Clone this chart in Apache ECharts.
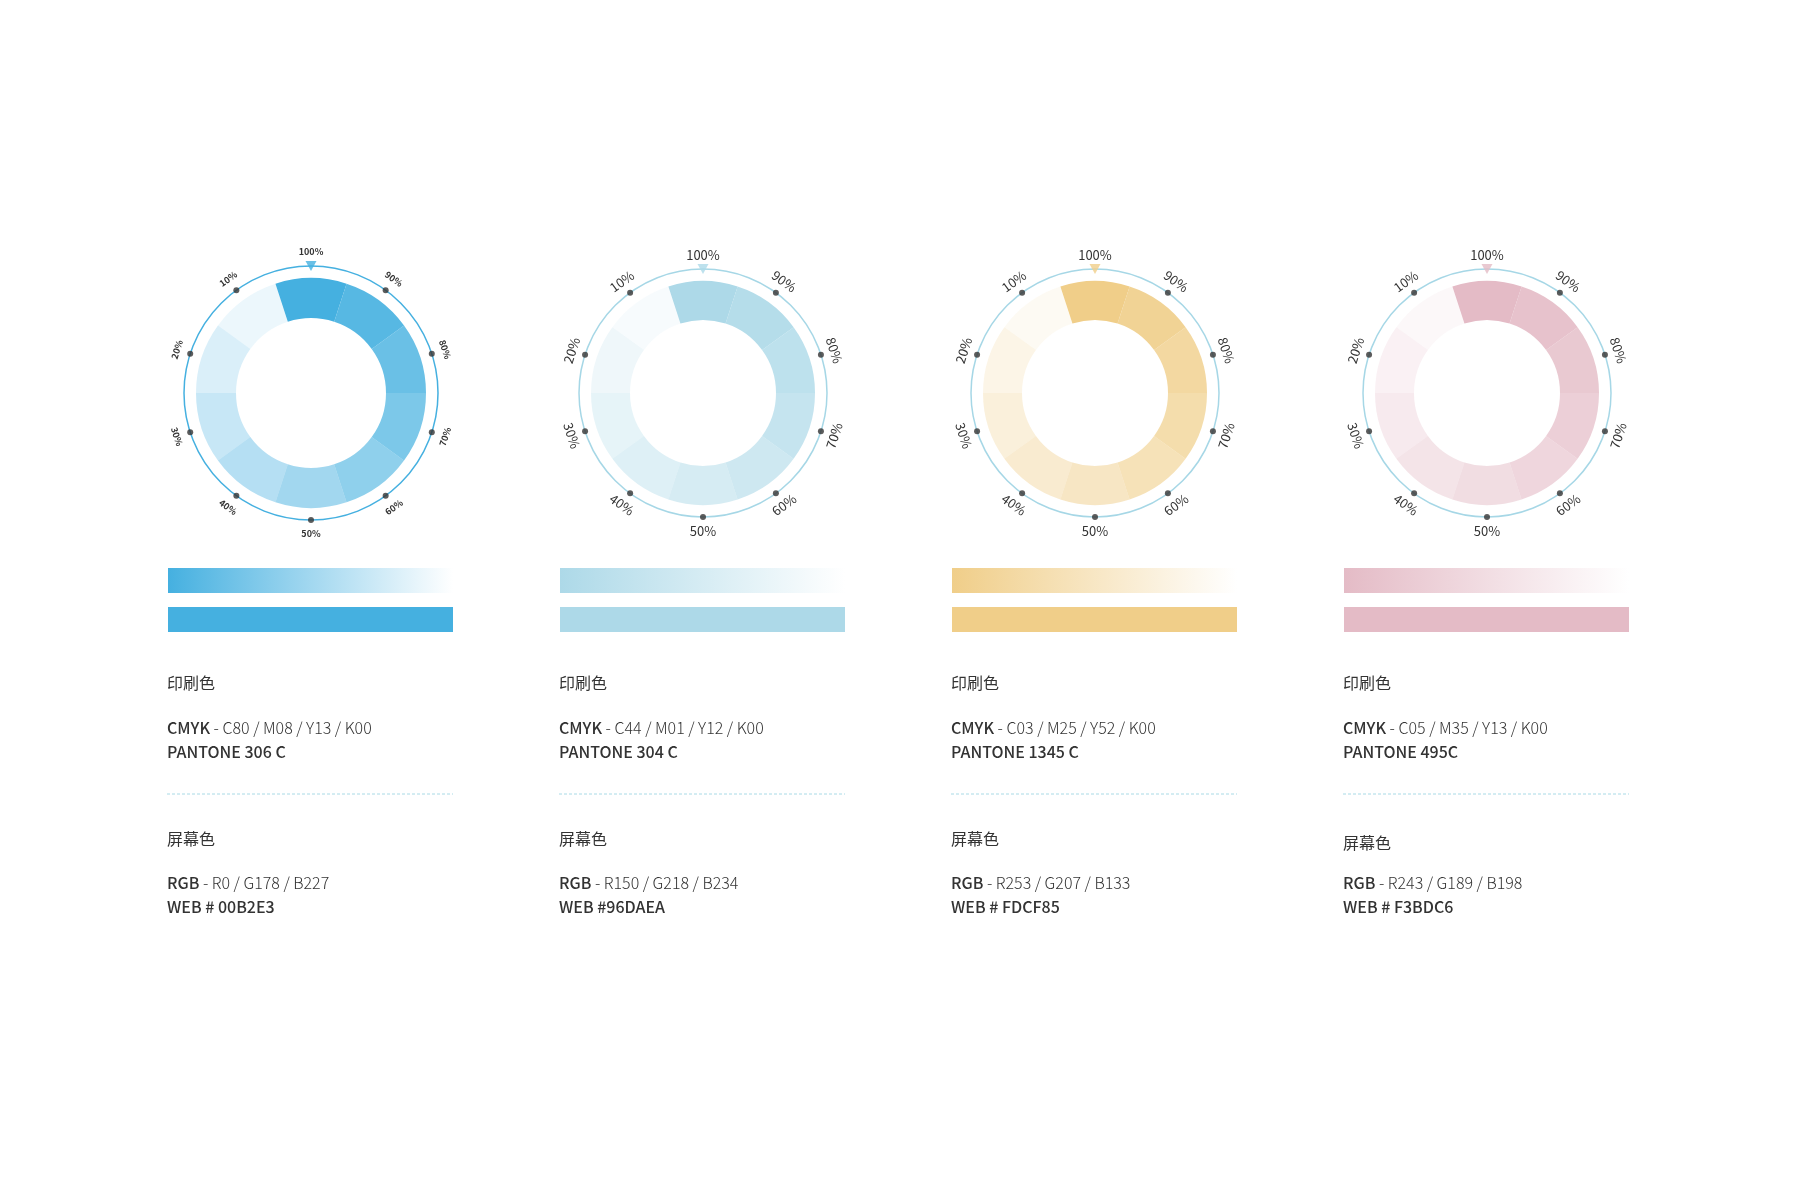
<!DOCTYPE html>
<html>
<head>
<meta charset="utf-8">
<script src="https://cdn.jsdelivr.net/npm/echarts@6/dist/echarts.min.js"></script>
<style>
html,body{margin:0;padding:0;background:#fff;}
#chart{width:1800px;height:1200px;}
</style>
</head>
<body>
<div id="chart"></div>
<script>
// ---------- data ----------
const levels = [100, 90, 80, 70, 60, 50, 40, 30, 20, 10];
const baseColors = ['#45B0E0', '#ADD9E8', '#F0CE89', '#E4BBC6'];
const circleColors = ['#45B0E0', '#A6D7E6', '#A6D7E6', '#A6D7E6'];
const swatchValues = [1, 1];
const printTitle = '印刷色';
const screenTitle = '屏幕色';
const cmykValues = ['C80 / M08 / Y13 / K00', 'C44 / M01 / Y12 / K00', 'C03 / M25 / Y52 / K00', 'C05 / M35 / Y13 / K00'];
const pantoneValues = ['PANTONE 306 C', 'PANTONE 304 C', 'PANTONE 1345 C', 'PANTONE 495C'];
const rgbValues = ['R0 / G178 / B227', 'R150 / G218 / B234', 'R253 / G207 / B133', 'R243 / G189 / B198'];
const webValues = ['WEB # 00B2E3', 'WEB #96DAEA', 'WEB # FDCF85', 'WEB # F3BDC6'];

// ---------- layout ----------
const centersX = [311, 703, 1095, 1487];
const cy = 393;
const ringRadius = [[75, 115], [73, 112], [73, 112], [73, 112]];
const circleRadius = [127, 124, 124, 124];
const labelRadius = [138, 135, 135, 135];
const labelFont = [{size: 9, weight: 'bold'}, {size: 13, weight: 'normal'}, {size: 13, weight: 'normal'}, {size: 13, weight: 'normal'}];
const screenOffset = [0, 0, 0, 4];
const FONT = '"Noto Sans CJK SC", "Noto Sans", sans-serif';

function rgba(hex, a) {
  const r = parseInt(hex.slice(1, 3), 16), g = parseInt(hex.slice(3, 5), 16), b = parseInt(hex.slice(5, 7), 16);
  return 'rgba(' + r + ',' + g + ',' + b + ',' + a + ')';
}

const chart = echarts.init(document.getElementById('chart'), null, {renderer: 'canvas'});

const polar = [], angleAxis = [], radiusAxis = [], grid = [], xAxis = [], yAxis = [], series = [], graphic = [];

baseColors.forEach((base, i) => {
  const cx = centersX[i];
  // ring segments
  series.push({
    type: 'pie', silent: true, clockwise: true, startAngle: 108,
    center: [cx, cy], radius: ringRadius[i],
    label: {show: false}, labelLine: {show: false},
    itemStyle: {borderWidth: 0},
    data: levels.map(l => ({name: l + '%', value: 1, itemStyle: {color: rgba(base, l / 100)}}))
  });
  // tangential labels
  series.push({
    type: 'pie', silent: true, clockwise: true, startAngle: 108,
    center: [cx, cy], radius: [labelRadius[i] - 5, labelRadius[i] + 5],
    itemStyle: {color: 'rgba(0,0,0,0)', borderWidth: 0},
    label: {show: true, position: 'inside', rotate: 'tangential', formatter: '{b}',
      color: '#333', fontSize: labelFont[i].size, fontWeight: labelFont[i].weight, fontFamily: FONT},
    labelLine: {show: false},
    data: levels.map(l => ({name: l + '%', value: 1}))
  });
  // outer circle (polar)
  polar.push({center: [cx, cy], radius: circleRadius[i]});
  angleAxis.push({polarIndex: i, type: 'value', min: 0, max: 100, startAngle: 90, clockwise: false,
    axisLine: {show: true, lineStyle: {color: circleColors[i], width: 1.5}},
    axisTick: {show: false}, axisLabel: {show: false}, splitLine: {show: false}});
  radiusAxis.push({polarIndex: i, type: 'value', min: 0, max: 1, show: false,
    axisLine: {show: false}, splitLine: {show: false}, axisTick: {show: false}, axisLabel: {show: false}});
  series.push({
    type: 'scatter', coordinateSystem: 'polar', polarIndex: i, silent: true,
    symbol: 'circle', symbolSize: 6, itemStyle: {color: '#333'},
    data: levels.filter(l => l !== 100).map(l => [1, l])
  });
  series.push({
    type: 'scatter', coordinateSystem: 'polar', polarIndex: i, silent: true, z: 5,
    symbol: 'triangle', symbolSize: [11, 10], symbolRotate: 180, itemStyle: {color: base},
    data: [[1, levels[0]]]
  });
  // swatch bars
  grid.push({left: cx - 143, width: 285, top: 561, height: 78});
  xAxis.push({gridIndex: i, type: 'value', min: 0, max: 1, show: false});
  yAxis.push({gridIndex: i, type: 'category', inverse: true, show: false, data: ['gradient', 'solid']});
  series.push({
    type: 'bar', xAxisIndex: i, yAxisIndex: i, silent: true, barWidth: 25,
    data: [
      {value: swatchValues[0], itemStyle: {color: {type: 'linear', x: 0, y: 0, x2: 1, y2: 0,
        colorStops: [{offset: 0, color: base}, {offset: 1, color: '#ffffff'}]}}},
      {value: swatchValues[1], itemStyle: {color: base}}
    ]
  });
  // texts
  const tx = cx - 144;
  const rich = {
    k: {fontFamily: FONT, fontSize: 16, fontWeight: 500, fill: '#333', color: '#333'},
    v: {fontFamily: FONT, fontSize: 16, fontWeight: 300, fill: '#333', color: '#333'}
  };
  const so = screenOffset[i];
  graphic.push(
    {type: 'text', x: tx, y: 683, style: {text: printTitle, fontFamily: FONT, fontSize: 16, fontWeight: 400, fill: '#333', verticalAlign: 'middle'}},
    {type: 'text', x: tx, y: 728, style: {text: '{k|CMYK}{v| - ' + cmykValues[i] + '}', rich: rich, verticalAlign: 'middle'}},
    {type: 'text', x: tx, y: 752, style: {text: '{k|' + pantoneValues[i] + '}', rich: rich, verticalAlign: 'middle'}},
    {type: 'line', shape: {x1: tx, y1: 794, x2: tx + 286, y2: 794}, style: {stroke: '#A9DAE6', lineWidth: 1, lineDash: [3, 2]}},
    {type: 'text', x: tx, y: 839 + so, style: {text: screenTitle, fontFamily: FONT, fontSize: 16, fontWeight: 400, fill: '#333', verticalAlign: 'middle'}},
    {type: 'text', x: tx, y: 883, style: {text: '{k|RGB}{v| - ' + rgbValues[i] + '}', rich: rich, verticalAlign: 'middle'}},
    {type: 'text', x: tx, y: 907, style: {text: '{k|' + webValues[i] + '}', rich: rich, verticalAlign: 'middle'}}
  );
});

chart.setOption({
  backgroundColor: '#ffffff',
  animation: false,
  polar, angleAxis, radiusAxis, grid, xAxis, yAxis, series, graphic
});
</script>
</body>
</html>
